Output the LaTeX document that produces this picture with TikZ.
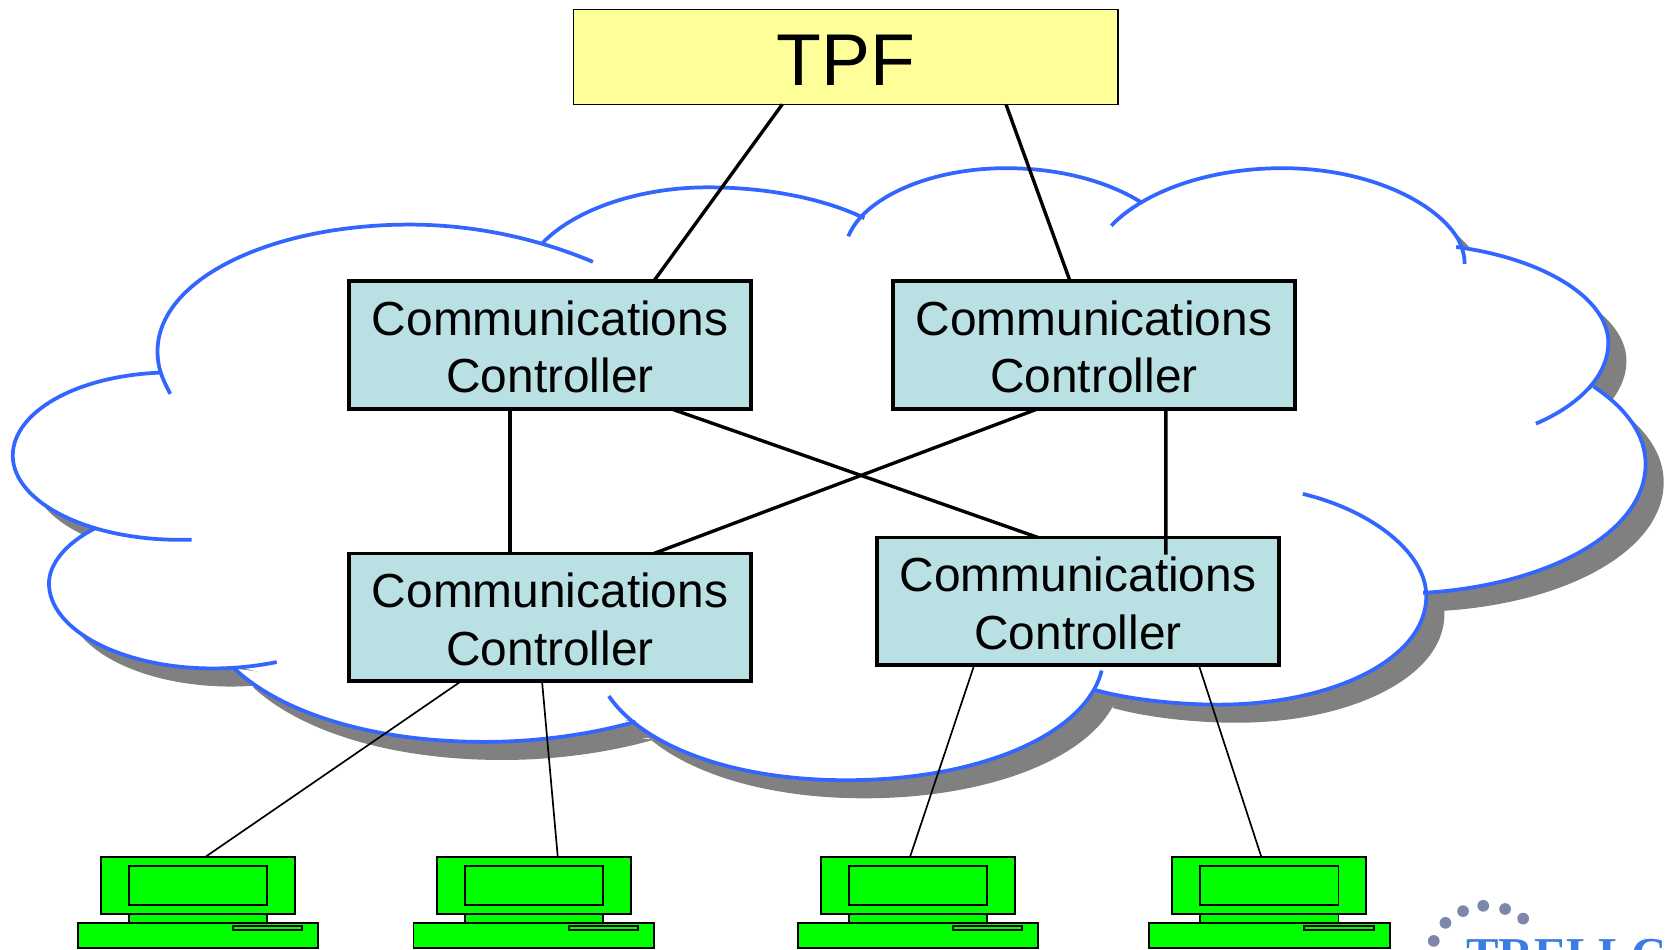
\documentclass[tikz,border=0pt]{standalone}
\usepackage{fontspec}
\setmainfont{Liberation Sans}
\newfontfamily\logofont{Liberation Serif}
\definecolor{cloudblue}{RGB}{51,102,255}
\definecolor{shadowgray}{RGB}{128,128,128}
\definecolor{ctrlfill}{RGB}{185,224,227}
\definecolor{tpffill}{RGB}{255,255,153}
\definecolor{pcgreen}{RGB}{0,255,0}
\definecolor{logoblue}{RGB}{60,125,225}
\definecolor{logodot}{RGB}{125,135,170}
\tikzset{
  ctrl/.style={draw=black,line width=1pt,fill=ctrlfill,minimum width=3.77cm,minimum height=1.2cm,inner sep=0pt,outer sep=0pt,align=center,font=\fontsize{12.78}{15.3}\selectfont},
  tpfbox/.style={draw=black,line width=0.4pt,fill=tpffill,minimum width=5.11cm,minimum height=0.89cm,inner sep=0pt,outer sep=0pt,font=\fontsize{19.6}{22}\selectfont},
  link/.style={draw=black,line width=0.9pt},
  thinlink/.style={draw=black,line width=0.45pt},
  pcpart/.style={draw=black,line width=0.5pt,fill=pcgreen,inner sep=0pt,outer sep=0pt},
  lobe/.style={draw=cloudblue,line width=1pt},
  dot/.style={circle,fill=logodot,inner sep=0pt,minimum size=0.11cm},
}
\newcommand{\cclabel}{\rule{0pt}{10.3pt}Communications\\Controller}
\def\lobeA{(160,370) .. controls (152,355) and (148,345) .. (148,330) .. controls (148,262) and (255,211) .. (385,211) .. controls (445,211) and (505,224) .. (557,246)}
\def\lobeB{(510,228) .. controls (540,197) and (600,176) .. (665,176) .. controls (722,176) and (775,187) .. (812,205)}
\def\lobeC{(797,222) .. controls (812,185) and (875,158) .. (945,158) .. controls (995,158) and (1040,170) .. (1072,190)}
\def\lobeD{(1044,212) .. controls (1075,180) and (1135,158) .. (1205,158) .. controls (1285,158) and (1350,190) .. (1370,225) .. controls (1374,233) and (1376,240) .. (1376,248)}
\def\lobeE{(1368,232) .. controls (1450,243) and (1511,280) .. (1511,322) .. controls (1511,352) and (1485,380) .. (1443,398)}
\def\lobeF{(1497,363) .. controls (1530,385) and (1546,410) .. (1546,436) .. controls (1546,500) and (1455,550) .. (1337,557)}
\def\lobeG{(1224,464) .. controls (1290,480) and (1340,520) .. (1340,560) .. controls (1340,620) and (1250,662) .. (1145,662) .. controls (1105,662) and (1060,657) .. (1028,648)}
\def\lobeH{(1035,630) .. controls (1020,690) and (920,733) .. (795,733) .. controls (690,733) and (605,702) .. (572,654)}
\def\lobeI{(597,678) .. controls (555,690) and (505,697) .. (455,697) .. controls (350,697) and (265,670) .. (220,628)}
\def\lobeJ{(260,622) .. controls (240,626) and (220,628) .. (200,628) .. controls (115,628) and (46,592) .. (46,548) .. controls (46,530) and (62,510) .. (90,496)}
\def\lobeK{(180,507) .. controls (85,510) and (12,472) .. (12,428) .. controls (12,388) and (70,353) .. (152,350)}
\def\cloudcore{(158,352) -- (300,230) -- (516,229) -- (660,195) -- (788,204) -- (815,207) -- (940,175) -- (1050,189) -- (1075,194) -- (1200,170) -- (1370,234) -- (1480,300) -- (1494,364) -- (1500,470) -- (1336,557) -- (1150,650) -- (1030,646) -- (800,720) -- (597,676) -- (440,680) -- (222,626) -- (120,590) -- (91,499) -- (40,430) -- cycle}
\newcommand{\cloudlobes}[1]{%
  \foreach \shape in {\lobeA,\lobeB,\lobeC,\lobeD,\lobeE,\lobeF,\lobeG,\lobeH,\lobeI,\lobeJ,\lobeK}{%
    \fill[#1] \shape -- cycle;
  }
  \fill[#1] \cloudcore;
}
\newcommand{\pcunit}[3]{% name, monitor left x, base left x
  \node[pcpart,minimum width=1.82cm,minimum height=0.54cm] (#1) at (#2+91,832) {};
  \node[pcpart,minimum width=1.30cm,minimum height=0.36cm] (#1screen) at (#2+91,832) {};
  \node[pcpart,minimum width=1.30cm,minimum height=0.08cm] (#1stand) at (#2+91,863) {};
  \node[pcpart,minimum width=2.26cm,minimum height=0.24cm] (#1base) at (#3+113,879) {};
  \node[pcpart,minimum width=0.65cm,minimum height=0.04cm] (#1slot) at (#3+178.5,872) {};
}
\begin{document}
\begin{tikzpicture}[x=0.01cm,y=-0.01cm]
\useasboundingbox (0,0) rectangle (1568,891.6);
\fill[white] (0,0) rectangle (1568,891.6);
% cloud
\begin{scope}[shift={(17,17)}]
  \cloudlobes{shadowgray}
\end{scope}
\cloudlobes{white}
\foreach \shape in {\lobeA,\lobeB,\lobeC,\lobeD,\lobeE,\lobeF,\lobeG,\lobeH,\lobeI,\lobeJ,\lobeK}{
  \draw[lobe] \shape;
}
% nodes
\node[tpfbox] (tpf) at (794.5,53.5) {\rule{0pt}{15.4pt}TPF};
\node[ctrl] (cc1) at (516.75,324) {\cclabel};
\node[ctrl] (cc2) at (1027.75,324) {\cclabel};
\node[ctrl] (cc3) at (516.75,580) {\cclabel};
\node[ctrl] (cc4) at (1012.75,565) {\cclabel};
\pcunit{pca}{95}{73}
\pcunit{pcb}{410.5}{388.5}
\pcunit{pcc}{771.5}{749.5}
\pcunit{pcd}{1101.5}{1079.5}
% connectors
\draw[link] ([xshift=1.96cm]tpf.south west) -- ([xshift=2.86cm]cc1.north west);
\draw[link] ([xshift=4.06cm]tpf.south west) -- ([xshift=1.66cm]cc2.north west);
\draw[link] ([xshift=1.51cm]cc1.south west) -- ([xshift=1.51cm]cc3.north west);
\draw[link] ([xshift=3.02cm]cc1.south west) -- ([xshift=1.51cm]cc4.north west);
\draw[link] ([xshift=1.36cm]cc2.south west) -- ([xshift=2.86cm]cc3.north west);
\draw[link] ([xshift=2.56cm]cc2.south west) -- ([xshift=2.71cm,yshift=-0.16cm]cc4.north west);
\draw[thinlink] ([xshift=1.05cm]cc3.south west) -- ([xshift=0.98cm]pca.north west);
\draw[thinlink] ([xshift=1.81cm]cc3.south west) -- ([xshift=1.135cm]pcb.north west);
\draw[thinlink] ([xshift=0.91cm]cc4.south west) -- ([xshift=0.835cm]pcc.north west);
\draw[thinlink] ([xshift=3.02cm]cc4.south west) -- ([xshift=0.835cm]pcd.north west);
% logo
\begin{scope}
\clip (0,0) rectangle (1568,891.6);
\node[dot] (d1) at (1347,884) {};
\node[dot] (d2) at (1358,867) {};
\node[dot] (d3) at (1374.5,856) {};
\node[dot] (d4) at (1393.5,851) {};
\node[dot] (d5) at (1414,854) {};
\node[dot] (d6) at (1431,863) {};
\node[anchor=base west,inner sep=0pt,text=logoblue,font=\logofont\bfseries\fontsize{13}{13}\selectfont] (logo) at (1377,913) {TRELLC};
\end{scope}
\end{tikzpicture}
\end{document}
